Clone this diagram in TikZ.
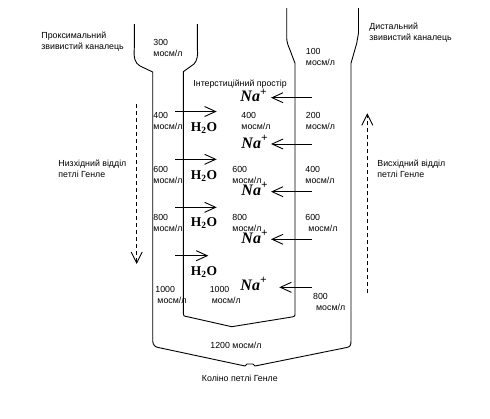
\documentclass[tikz,border=0pt]{standalone}
\usepackage{fontspec}
\setmainfont{Liberation Sans}
\newfontfamily\chemfont{Liberation Serif}
\usetikzlibrary{arrows.meta}

\begin{document}
\begin{tikzpicture}[
  x=1pt,
  y=-1pt,
  line width=0.9pt,
  txt/.style={
    anchor=north west,
    align=left,
    inner sep=0pt,
    font=\fontsize{8.8}{11}\selectfont
  },
  ion/.style={
    anchor=base west,
    inner sep=0pt,
    font=\chemfont\fontsize{16}{16}\selectfont\bfseries\itshape
  },
  mol/.style={
    anchor=base west,
    inner sep=0pt,
    font=\chemfont\fontsize{13.5}{14}\selectfont\bfseries
  },
  flow/.style={
    -{Straight Barb[length=11pt,width=10pt]}
  },
  drift/.style={
    -{Straight Barb[length=11pt,width=11pt]},
    dash pattern=on 4pt off 3pt
  }
]
\useasboundingbox (0,0) rectangle (490,418);

% tubule walls
\draw (134.3,24) -- (134.3,48) .. controls (133.5,58) and (135,63) .. (140,66)
  -- (152.7,72) -- (152.7,341) .. controls (153,345) and (155,347) .. (158.3,347.5)
  -- (245,366) -- (247,364) -- (253,364) -- (255,366)
  -- (346.7,347.5) .. controls (350,347) and (351,345) .. (351,341)
  -- (351,63.3) -- (356.7,43.3) .. controls (358.5,38) .. (358.5,33) -- (358.5,8);
\draw (197.3,24) -- (197.3,48) .. controls (198.3,55) and (197,61) .. (194,64)
  -- (183.3,71.7) -- (183.3,313.3) .. controls (183.3,316) .. (188.3,316.9)
  -- (231.7,326.7) -- (290,317.3) .. controls (295,316.5) .. (295,313.3)
  -- (295,63.3) -- (290,50) .. controls (286.7,42) .. (286.7,33) -- (286.7,8);

% labels
\node[txt] (prox) at (41,31.5) {Проксимальний\\звивистий каналець};
\node[txt] (c300) at (153,39.3) {300\\мосм/л};
\node[txt] (dist) at (369,22.7) {Дистальний\\звивистий каналець};
\node[txt] (c100) at (305.5,47.7) {100\\мосм/л};
\node[txt] (inter) at (193,80) {Інтерстиційний простір};
\node[txt] (l400) at (153,111.7) {400\\мосм/л};
\node[txt] (m400) at (241,111.7) {400\\мосм/л};
\node[txt] (r200) at (305.5,112) {200\\мосм/л};
\node[txt] (l600) at (153,166) {600\\мосм/л};
\node[txt] (m600) at (232,166) {600\\мосм/л};
\node[txt] (r400) at (305,166) {400\\мосм/л};
\node[txt] (l800) at (153,214) {800\\мосм/л};
\node[txt] (m800) at (232,214) {800\\мосм/л};
\node[txt] (r600) at (305,214) {600\\\hspace*{3pt}мосм/л};
\node[txt] (l1000) at (155,286) {1000\\\hspace*{2pt}мосм/л};
\node[txt] (m1000) at (209.3,286) {1000\\\hspace*{2pt}мосм/л};
\node[txt] (r800) at (312.7,293.3) {800\\\hspace*{3pt}мосм/л};
\node[txt] (desc) at (58,159.3) {Низхідний відділ\\петлі Генле};
\node[txt] (asc) at (377,159.3) {Висхідний відділ\\петлі Генле};
\node[txt] (c1200) at (210,341.7) {1200 мосм/л};
\node[txt] (knee) at (201.5,375) {Коліно петлі Генле};

% sodium
\node[ion] (na1) at (240,101.7) {Na\textsuperscript{+}};
\node[ion] (na2) at (241,148) {Na\textsuperscript{+}};
\node[ion] (na3) at (241,195) {Na\textsuperscript{+}};
\node[ion] (na4) at (241,243) {Na\textsuperscript{+}};
\node[ion] (na5) at (240,290) {Na\textsuperscript{+}};
\coordinate (s1) at (311.7,97.7);  \coordinate (t1) at (271,97.7);
\coordinate (s2) at (311.7,144);   \coordinate (t2) at (271,144);
\coordinate (s3) at (311.7,191.7); \coordinate (t3) at (271,191.7);
\coordinate (s4) at (311.7,239.3); \coordinate (t4) at (271,239.3);
\coordinate (s5) at (311.7,287.3); \coordinate (t5) at (279.3,287.3);
\draw[flow] (s1) -- (t1);
\draw[flow] (s2) -- (t2);
\draw[flow] (s3) -- (t3);
\draw[flow] (s4) -- (t4);
\draw[flow] (s5) -- (t5);

% water
\node[mol] (w1) at (190.5,131) {H\textsubscript{2}O};
\node[mol] (w2) at (190.5,179) {H\textsubscript{2}O};
\node[mol] (w3) at (190.5,226.7) {H\textsubscript{2}O};
\node[mol] (w4) at (190.5,275) {H\textsubscript{2}O};
\coordinate (u1) at (175,111.5); \coordinate (v1) at (216.7,111.5);
\coordinate (u2) at (175,159.3); \coordinate (v2) at (216.7,159.3);
\coordinate (u3) at (175,207.3); \coordinate (v3) at (216.7,207.3);
\coordinate (u4) at (175,255.7); \coordinate (v4) at (208.3,255.7);
\draw[flow] (u1) -- (v1);
\draw[flow] (u2) -- (v2);
\draw[flow] (u3) -- (v3);
\draw[flow] (u4) -- (v4);

% flow direction
\coordinate (dtop) at (136.7,104);   \coordinate (dbot) at (136.7,264);
\coordinate (abot) at (367.3,293.3); \coordinate (atop) at (367.3,113.3);
\draw[drift] (dtop) -- (dbot);
\draw[drift] (abot) -- (atop);
\end{tikzpicture}
\end{document}
